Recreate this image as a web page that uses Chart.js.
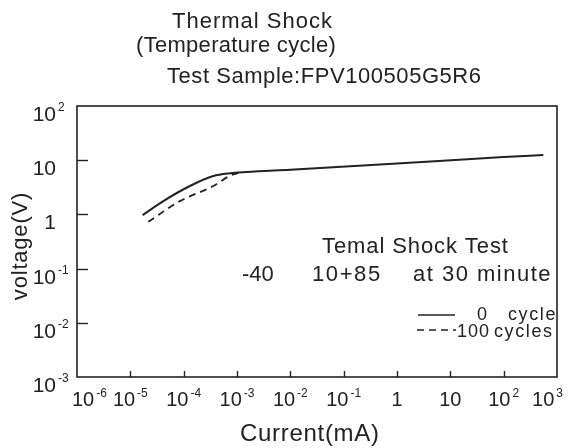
<!DOCTYPE html>
<html>
<head>
<meta charset="utf-8">
<script src="https://cdn.jsdelivr.net/npm/chart.js@4.4.0/dist/chart.umd.min.js"></script>
<style>
  html, body { margin: 0; padding: 0; background: #fff; }
  #chart { display: block; }
</style>
</head>
<body>
<canvas id="chart" width="585" height="448"></canvas>
<script>
// data
const solidCurrent = [1.7e-5, 4.15e-5, 1.31e-4, 3.6e-4, 7.4e-4, 1.5e-3, 1e-2, 1, 100, 553]
const solidVoltage = [0.97, 1.76, 3.34, 5.1, 5.74, 6.05, 6.7, 8.7, 11.4, 12.5]
const dashedCurrent = [2.17e-5, 8.5e-5, 3.6e-4, 7.5e-4, 1.05e-3]
const dashedVoltage = [0.73, 1.76, 3.34, 5.2, 5.75]

// tick exponents (labels are 10^n, with 1 and 10 written plainly)
const xTickExps = [-6, -5, -4, -3, -2, -1, 0, 1, 2, 3]
const yTickExps = [-3, -2, -1, 0, 1, 2]

const titleLines = ["Thermal Shock", "(Temperature cycle)", "Test Sample:FPV100505G5R6"]
const noteTitle = "Temal Shock Test"
const noteLine = ["-40", "10+85", "at 30 minute"]
const legendNumbers = ["0", "100"]
const legendWords = ["cycle", "cycles"]

const ink = "#222"
const font = "'Liberation Sans', Arial, sans-serif"

const toPoints = (xs, ys) => xs.map((x, i) => ({ x: x, y: ys[i] }))

function splitLabel(exp) {
  if (exp === 0) return { base: "1", sup: "" }
  if (exp === 1) return { base: "10", sup: "" }
  return { base: "10", sup: String(exp) }
}

function text(ctx, str, x, y, size, spacing, align) {
  ctx.font = size + "px " + font
  ctx.letterSpacing = (spacing || 0) + "px"
  ctx.textAlign = align || "left"
  ctx.fillText(str, x, y)
}

const decorations = {
  id: "decorations",
  afterDraw(chart) {
    const ctx = chart.ctx
    const area = chart.chartArea
    const xs = chart.scales.x
    const ys = chart.scales.y
    ctx.save()
    ctx.fillStyle = ink
    ctx.strokeStyle = ink
    ctx.textBaseline = "alphabetic"

    // titles
    text(ctx, titleLines[0], 172, 28, 22, 1)
    text(ctx, titleLines[1], 136, 52, 22, 0.3)
    text(ctx, titleLines[2], 167, 83, 22, 0.55)

    // plot frame
    ctx.lineWidth = 1.6
    ctx.strokeRect(area.left, area.top, area.right - area.left, area.bottom - area.top)

    // inward ticks
    ctx.lineWidth = 1.4
    xTickExps.slice(1, -1).forEach((e) => {
      const px = Math.round(xs.getPixelForValue(Math.pow(10, e))) + 0.5
      ctx.beginPath()
      ctx.moveTo(px, area.bottom)
      ctx.lineTo(px, area.bottom - 6)
      ctx.stroke()
    })
    yTickExps.slice(1, -1).forEach((e) => {
      const py = Math.round(ys.getPixelForValue(Math.pow(10, e))) + 0.5
      ctx.beginPath()
      ctx.moveTo(area.left, py)
      ctx.lineTo(area.left + 11, py)
      ctx.stroke()
    })

    // x tick labels
    xTickExps.forEach((e) => {
      const lab = splitLabel(e)
      ctx.letterSpacing = "0px"
      ctx.font = "20px " + font
      const bw = ctx.measureText(lab.base).width
      ctx.font = "12px " + font
      const sw = lab.sup ? ctx.measureText(lab.sup).width + 2 : 0
      const total = bw + sw
      let left = xs.getPixelForValue(Math.pow(10, e)) - total / 2
      left = Math.max(left, 72)
      left = Math.min(left, 563 - total)
      text(ctx, lab.base, left, 406, 20, 0)
      if (lab.sup) text(ctx, lab.sup, left + bw + 2, 397, 12, 0)
    })

    // y tick labels
    yTickExps.forEach((e) => {
      const lab = splitLabel(e)
      const py = ys.getPixelForValue(Math.pow(10, e))
      text(ctx, lab.base, 56, py + 15, 21, 0, "right")
      if (lab.sup) text(ctx, lab.sup, 58, py + 5, 12, 0)
    })

    // axis titles
    text(ctx, "Current(mA)", 240, 441, 24, 0.7)
    ctx.save()
    ctx.translate(27, 246)
    ctx.rotate(-Math.PI / 2)
    text(ctx, "voltage(V)", 0, 0, 22, 0.8, "center")
    ctx.restore()

    // test note
    text(ctx, noteTitle, 322, 253, 22, 0.9)
    text(ctx, noteLine[0], 242, 281, 22, 0)
    text(ctx, noteLine[1], 312, 281, 22, 1.6)
    text(ctx, noteLine[2], 413, 281, 22, 1.5)

    // legend
    ctx.lineWidth = 1.6
    ctx.beginPath()
    ctx.moveTo(418, 315)
    ctx.lineTo(455, 315)
    ctx.stroke()
    ctx.setLineDash([7, 5])
    ctx.beginPath()
    ctx.moveTo(417, 330)
    ctx.lineTo(456, 330)
    ctx.stroke()
    ctx.setLineDash([])
    text(ctx, legendNumbers[0], 477, 320, 18, 0)
    text(ctx, legendWords[0], 508, 320, 18, 1.6)
    text(ctx, legendNumbers[1], 457, 337, 18, 1)
    text(ctx, legendWords[1], 494, 337, 18, 1.6)

    ctx.restore()
  },
}

const chart = new Chart(document.getElementById("chart"), {
  type: "scatter",
  data: {
    datasets: [
      {
        label: "0 cycle",
        data: toPoints(solidCurrent, solidVoltage),
        showLine: true,
        borderColor: ink,
        borderWidth: 2,
        pointRadius: 0,
        cubicInterpolationMode: "monotone",
      },
      {
        label: "100 cycles",
        data: toPoints(dashedCurrent, dashedVoltage),
        showLine: true,
        borderColor: ink,
        borderWidth: 1.8,
        borderDash: [7, 5],
        pointRadius: 0,
        cubicInterpolationMode: "monotone",
      },
    ],
  },
  options: {
    responsive: false,
    animation: false,
    layout: { padding: { top: 106, right: 28, left: 0, bottom: 0 } },
    scales: {
      x: {
        type: "logarithmic",
        min: 1e-6,
        max: 1e3,
        grid: { display: false },
        border: { display: false },
        ticks: { display: false },
        afterFit: (scale) => { scale.height = 71 },
      },
      y: {
        type: "logarithmic",
        min: 1e-3,
        max: 1e2,
        grid: { display: false },
        border: { display: false },
        ticks: { display: false },
        afterFit: (scale) => { scale.width = 77 },
      },
    },
    plugins: {
      legend: { display: false },
      tooltip: { enabled: false },
      title: { display: false },
    },
  },
  plugins: [decorations],
})
</script>
</body>
</html>
